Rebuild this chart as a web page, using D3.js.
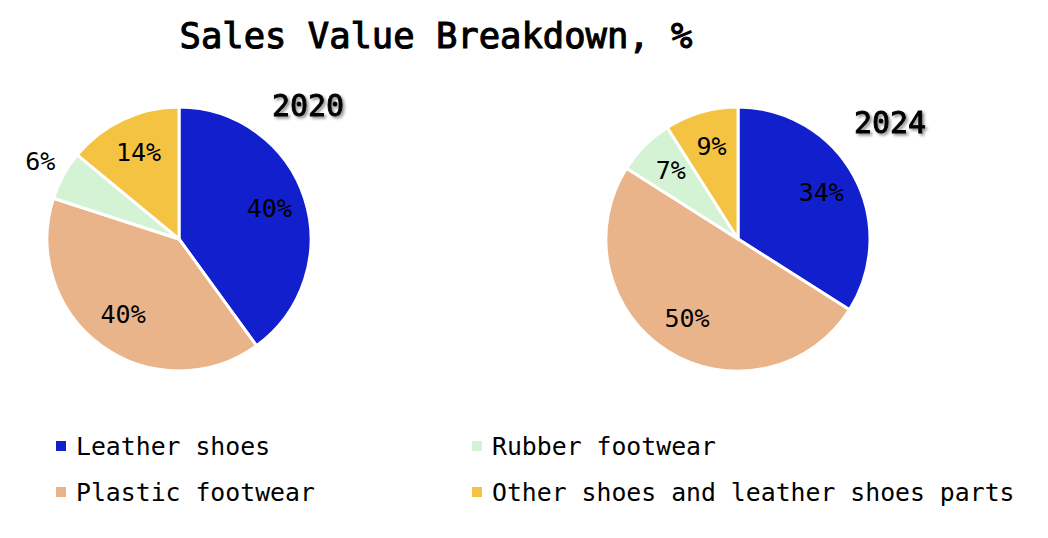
<!DOCTYPE html>
<html>
<head>
<meta charset="utf-8">
<script src="https://cdn.jsdelivr.net/npm/d3@7"></script>
<style>
html,body{margin:0;padding:0;background:#fff;}
svg{display:block;}
text{font-family:"DejaVu Sans Mono",monospace;fill:#000;}
</style>
</head>
<body>
<svg id="chart" width="1048" height="538"></svg>
<script>
const categories = ["Leather shoes","Plastic footwear","Rubber footwear","Other shoes and leather shoes parts"];
const colors = ["#111fcc","#eab48a","#d4f3d4","#f5c342"];
const years = ["2020","2024"];
const values2020 = [40,40,6,14];
const values2024 = [34,50,7,9];
const legendOrder = [0,2,1,3];

const W = 1048, H = 538;
const svg = d3.select("#chart");

const defs = svg.append("defs");
const f = defs.append("filter").attr("id","shadow").attr("x","-20%").attr("y","-30%").attr("width","150%").attr("height","170%");
f.append("feDropShadow").attr("dx",2).attr("dy",2).attr("stdDeviation",1.6).attr("flood-color","#000").attr("flood-opacity",0.45);

svg.append("text").attr("x",436).attr("y",48).attr("text-anchor","middle")
  .attr("font-size",35.5).attr("stroke","#000").attr("stroke-width",1.1)
  .text("Sales Value Breakdown, %");

const R = 132;
const pie = d3.pie().sort(null).value(d=>d);
const arc = d3.arc().innerRadius(0).outerRadius(R);
const inLab = d3.arc().innerRadius(R*0.72).outerRadius(R*0.72);
const outLab = d3.arc().innerRadius(R*1.2).outerRadius(R*1.2);

const pies = [
  {vals: values2020, cx: 179, cy: 239, year: years[0], yx: 308, yy: 116},
  {vals: values2024, cx: 738, cy: 239, year: years[1], yx: 890, yy: 133}
];

pies.forEach(p=>{
  const g = svg.append("g").attr("transform",`translate(${p.cx},${p.cy})`);
  const arcs = pie(p.vals);
  g.selectAll("path").data(arcs).join("path")
    .attr("d",arc).attr("fill",(d,i)=>colors[i])
    .attr("stroke","#fff").attr("stroke-width",3).attr("stroke-linejoin","round");
  g.selectAll("text.lab").data(arcs).join("text").attr("class","lab")
    .attr("transform",d=>`translate(${(d.data<6.5?outLab:inLab).centroid(d)})`)
    .attr("text-anchor","middle").attr("dy","0.3em")
    .attr("font-size",25).text(d=>d.data+"%");
  svg.append("text").attr("x",p.yx).attr("y",p.yy).attr("text-anchor","middle")
    .attr("font-size",30).attr("stroke","#000").attr("stroke-width",0.9)
    .attr("filter","url(#shadow)").text(p.year);
});

const legendX = d3.scaleOrdinal().domain([0,1]).range([56,472]);
const legendY = d3.scaleOrdinal().domain([0,1]).range([446,492]);
const lg = svg.append("g");
legendOrder.forEach((ci,k)=>{
  const col = k%2, row = Math.floor(k/2);
  const x = legendX(col), y = legendY(row);
  lg.append("rect").attr("x",x).attr("y",y-5).attr("width",10).attr("height",10).attr("fill",colors[ci]);
  lg.append("text").attr("x",x+20).attr("y",y).attr("dy","0.36em").attr("font-size",24.8).text(categories[ci]);
});
</script>
</body>
</html>
